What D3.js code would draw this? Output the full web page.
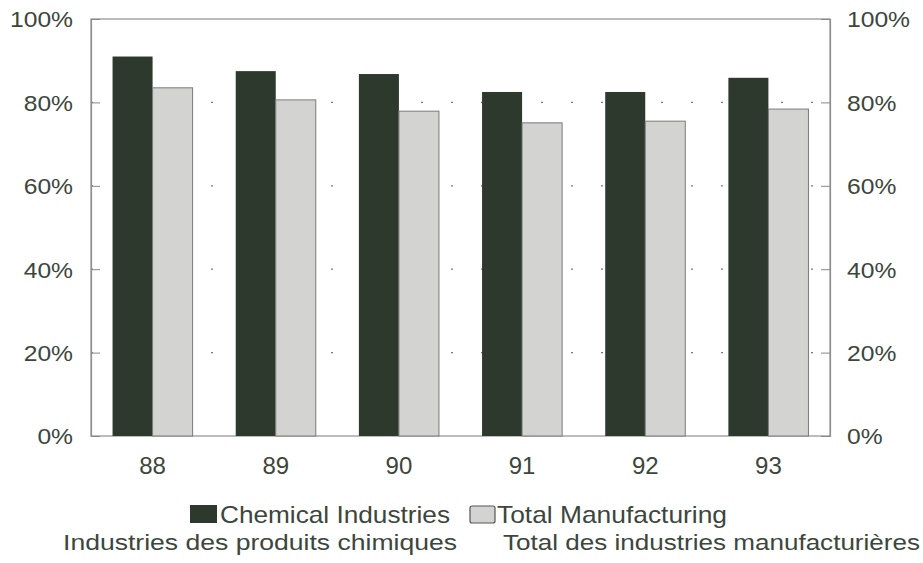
<!DOCTYPE html>
<html><head><meta charset="utf-8">
<script src="https://cdn.jsdelivr.net/npm/d3@7"></script>
<style>body{margin:0;background:#fff;} text{font-family:"Liberation Sans",Arial,sans-serif;fill:#3c463c;}</style>
</head><body>
<svg id="c" width="923" height="563"></svg>
<script>
const categories = ["88","89","90","91","92","93"];
const chemical = [91.0, 87.5, 86.8, 82.5, 82.5, 85.9];
const manufacturing = [83.5, 80.6, 77.9, 75.1, 75.5, 78.4];
const yTicks = [0, 20, 40, 60, 80, 100];
const seriesNames = ["Chemical Industries", "Total Manufacturing"];
const seriesNamesFr = ["Industries des produits chimiques", "Total des industries manufacturières"];

const svg = d3.select("#c");
const m = {l: 91, r: 93, t: 19, b: 127};
const W = 923, H = 563;
const x = d3.scaleBand().domain(categories).range([m.l, W - m.r]).paddingInner(0.35).paddingOuter(0.175);
const xs = d3.scaleBand().domain([0,1]).range([0, x.bandwidth()]);
const y = d3.scaleLinear().domain([0, 100]).range([H - m.b, m.t]);

function stretch(sel, k) {
  sel.each(function() {
    const w = this.getComputedTextLength();
    d3.select(this).attr("textLength", w * k).attr("lengthAdjust", "spacingAndGlyphs");
  });
}

// grid
svg.append("g").selectAll("line").data(yTicks.filter(d => d > 0 && d < 100)).join("line")
  .attr("x1", m.l).attr("x2", W - m.r).attr("y1", d => y(d)).attr("y2", d => y(d))
  .attr("stroke", "#777").attr("stroke-width", 1.2).attr("stroke-dasharray", "2,28");

// frame
svg.append("rect").attr("x", m.l).attr("y", m.t).attr("width", W - m.r - m.l).attr("height", y(0) - m.t)
  .attr("fill", "none").attr("stroke", "#8f8f8f").attr("stroke-width", 1.2);

const g = svg.append("g");
g.selectAll("rect.chem").data(chemical).join("rect").attr("class", "chem")
  .attr("x", (d, i) => x(categories[i]) + xs(0)).attr("width", xs.bandwidth())
  .attr("y", d => y(d)).attr("height", d => y(0) - y(d)).attr("fill", "#2e392e");
g.selectAll("rect.man").data(manufacturing).join("rect").attr("class", "man")
  .attr("x", (d, i) => x(categories[i]) + xs(1)).attr("width", xs.bandwidth())
  .attr("y", d => y(d)).attr("height", d => y(0) - y(d)).attr("fill", "#d3d3d1").attr("stroke", "#7a7a7a").attr("stroke-width", 1);

// axes
const fmt = d => d + "%";
const la = svg.append("g").attr("transform", `translate(${m.l},0)`)
  .call(d3.axisLeft(y).tickValues(yTicks).tickFormat(fmt).tickSize(-9).tickPadding(18));
const ra = svg.append("g").attr("transform", `translate(${W - m.r},0)`)
  .call(d3.axisRight(y).tickValues(yTicks).tickFormat(fmt).tickSize(-9).tickPadding(17));
[la, ra].forEach(a => {
  a.select(".domain").attr("stroke", "#8f8f8f").attr("stroke-width", 1.2);
  a.selectAll(".tick line").attr("stroke", "#888");
  a.selectAll("text").attr("font-size", 22).attr("dy", "0.36em").style("fill", "#3c463c").attr("font-family", "Liberation Sans, Arial, sans-serif");
  stretch(a.selectAll("text"), 1.12);
});
const xa = svg.append("g").attr("transform", `translate(0,${y(0)})`)
  .call(d3.axisBottom(x).tickSize(0).tickPadding(21));
xa.select(".domain").remove();
xa.selectAll("text").attr("font-size", 24).style("fill", "#3c463c").attr("font-family", "Liberation Sans, Arial, sans-serif");

// legend
const lg = svg.append("g");
lg.append("rect").attr("x", 190).attr("y", 505).attr("width", 27).attr("height", 18).attr("fill", "#2e392e");
lg.append("text").attr("x", 220).attr("y", 523).attr("font-size", 24).attr("textLength", 230).attr("lengthAdjust", "spacingAndGlyphs").text(seriesNames[0]);
lg.append("rect").attr("x", 470).attr("y", 506).attr("width", 25).attr("height", 17).attr("rx", 2).attr("fill", "#d3d3d1").attr("stroke", "#555").attr("stroke-width", 1.2);
lg.append("text").attr("x", 497).attr("y", 523).attr("font-size", 24).attr("textLength", 230).attr("lengthAdjust", "spacingAndGlyphs").text(seriesNames[1]);
lg.append("text").attr("x", 63).attr("y", 550).attr("font-size", 22).attr("textLength", 394).attr("lengthAdjust", "spacingAndGlyphs").text(seriesNamesFr[0]);
lg.append("text").attr("x", 503).attr("y", 550).attr("font-size", 22).attr("textLength", 417).attr("lengthAdjust", "spacingAndGlyphs").text(seriesNamesFr[1]);
</script>
</body></html>
